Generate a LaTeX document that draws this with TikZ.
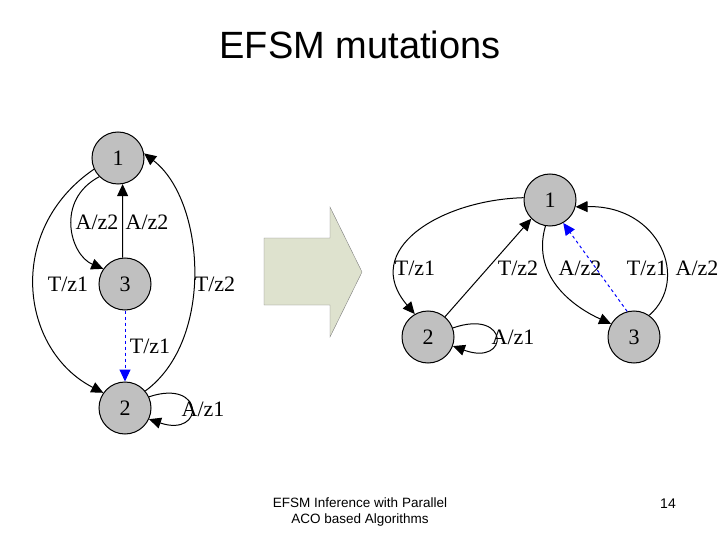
\documentclass[tikz,border=0pt]{standalone}
\usepackage{fontspec}
\setmainfont{Liberation Serif}
\newfontfamily\sansf{Liberation Sans}
\usetikzlibrary{arrows.meta}
\definecolor{arrowfill}{RGB}{222,226,206}
\definecolor{nodefill}{RGB}{192,192,192}
\begin{document}
\begin{tikzpicture}[x=1pt,y=-1pt,
  st/.style={circle,draw,line width=1pt,fill=nodefill,minimum size=52pt,inner sep=0pt,font=\fontsize{22}{22}\selectfont},
  ed/.style={draw,-{Triangle[length=12pt,width=11pt]},line width=1pt},
  dsh/.style={ed,blue,dashed},
  lb/.style={font=\fontsize{22}{22}\selectfont,inner sep=1pt}]
\useasboundingbox (0,0) rectangle (720,540);
\node[font=\sansf\fontsize{38}{38}\selectfont] (title) at (360,45) {EFSM mutations};
% left graph
\node[st] (l1) at (118,158) {1};
\node[st] (l3) at (125,284) {3};
\node[st] (l2) at (125,408) {2};
\draw[ed] (l1.225) .. controls (55,200) and (70,255) .. (l3.145);
\draw[ed] (l3.95) -- (l1.280);
\draw[ed] (l1.205) .. controls (5,230) and (20,350) .. (l2.145);
\draw[ed] (l2.40) .. controls (215,340) and (205,200) .. (l1.10);
\draw[dsh] (l3) -- (l2);
\draw[ed] (l2.25) .. controls (205,378) and (205,438) .. (l2.335);
\node[lb] (t1) at (97,222) {A/z2};
\node[lb] (t2) at (147,222) {A/z2};
\node[lb] (t3) at (68,284) {T/z1};
\node[lb] (t4) at (215,284) {T/z2};
\node[lb] (t5) at (150,346) {T/z1};
\node[lb] (t6) at (203,409) {A/z1};
% arrow
\draw[fill=arrowfill,draw=gray] (264,238) -- (330,238) -- (330,207) -- (362,272) -- (330,337) -- (330,305) -- (264,305) -- cycle;
% right graph
\node[st] (r1) at (550,200) {1};
\node[st] (r2) at (428,337) {2};
\node[st] (r3) at (634,337) {3};
\draw[ed] (r1.175) .. controls (440,200) and (360,250) .. (r2.120);
\draw[ed] (r2.50) -- (r1.225);
\draw[ed] (r1.260) .. controls (530,280) and (580,310) .. (r3.150);
\draw[dsh] (r3.105) -- (r1.300);
\draw[ed] (r3.55) .. controls (690,280) and (660,205) .. (r1.345);
\draw[ed] (r2.20) .. controls (510,308) and (510,367) .. (r2.340);
\node[lb] (u1) at (415,268) {T/z1};
\node[lb] (u2) at (518,268) {T/z2};
\node[lb] (u3) at (580,268) {A/z2};
\node[lb] (u4) at (647,268) {T/z1};
\node[lb] (u5) at (697,268) {A/z2};
\node[lb] (u6) at (513,337) {A/z1};
% footer
\node[font=\sansf\fontsize{13.5}{16}\selectfont,align=center] (foot) at (360,512) {EFSM Inference with Parallel\\ACO based Algorithms};
\node[font=\sansf\fontsize{14}{14}\selectfont] (pg) at (668,504) {14};
\end{tikzpicture}
\end{document}
